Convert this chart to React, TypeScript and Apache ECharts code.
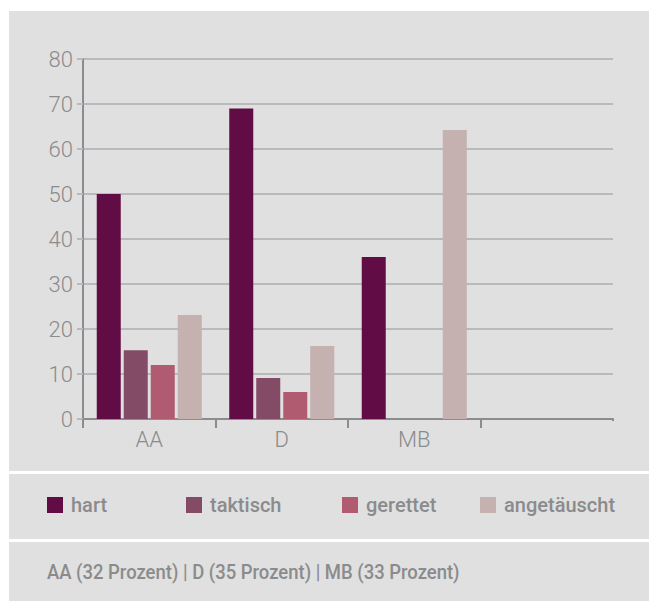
import React, { useEffect, useRef } from "react";
import * as echarts from "echarts";

const categories = ["AA", "D", "MB", ""];
const seriesNames = ["hart", "taktisch", "gerettet", "angetäuscht"];
const hart = [50, 69, 36, null];
const taktisch = [15.3, 9.1, null, null];
const gerettet = [12, 6, null, null];
const angetaeuscht = [23.1, 16.2, 64.2, null];
const colors = ["#620c45", "#834b66", "#b05b6f", "#c5b1b0"];
const footerText = "AA (32 Prozent) | D (35 Prozent) | MB (33 Prozent)";
const legendLefts = [47, 186, 342, 480];

const PANEL = "#dfe0df";
const LABEL = "#8b8b8d";

export default function App() {
  const ref = useRef<HTMLDivElement>(null);
  useEffect(() => {
    if (!ref.current) return;
    const chart = echarts.init(ref.current, undefined, { renderer: "svg" });
    const values = [hart, taktisch, gerettet, angetaeuscht];
    chart.setOption({
      animation: false,
      backgroundColor: "#ffffff",
      graphic: [
        { type: "rect", z: -10, shape: { x: 9, y: 11, width: 640, height: 460 }, style: { fill: PANEL } },
        { type: "rect", z: -10, shape: { x: 9, y: 474, width: 640, height: 65 }, style: { fill: PANEL } },
        { type: "rect", z: -10, shape: { x: 9, y: 542, width: 640, height: 59 }, style: { fill: PANEL } },
        { type: "rect", z: 100, shape: { x: 610, y: 421, width: 6, height: 10 }, style: { fill: PANEL } },
        {
          type: "text",
          z: 10,
          x: 47,
          y: 572,
          scaleX: 0.88,
          style: {
            text: footerText,
            fill: LABEL,
            font: "500 21px Roboto",
            verticalAlign: "middle",
          },
        },
      ],
      grid: { left: 83, right: 36, top: 59, bottom: 182, containLabel: false },
      legend: seriesNames.map((n, i) => ({
        data: [n],
        left: legendLefts[i],
        top: 493,
        padding: 0,
        itemWidth: 16,
        itemHeight: 16,
        icon: "rect",
        selectedMode: false,
        textStyle: {
          color: LABEL,
          fontFamily: "Roboto",
          fontWeight: 500,
          fontSize: 20,
          lineHeight: 24,
          padding: [0, 0, 0, 3],
        },
      })),
      xAxis: {
        type: "category",
        data: categories,
        axisLine: { lineStyle: { color: "#8b8c8f", width: 2 } },
        axisTick: { show: true, length: 9, lineStyle: { color: "#8b8c8f", width: 2 } },
        axisLabel: { color: LABEL, fontFamily: "Roboto", fontWeight: 300, fontSize: 22, margin: 9 },
      },
      yAxis: {
        type: "value",
        min: 0,
        max: 80,
        interval: 10,
        axisLine: { show: true, lineStyle: { color: "#8b8c8f", width: 2 } },
        axisTick: { show: true, length: 6, lineStyle: { color: "#b9babd", width: 2 } },
        splitLine: { lineStyle: { color: "#b9babd", width: 2 } },
        axisLabel: { color: LABEL, fontFamily: "Roboto", fontWeight: 300, fontSize: 22, margin: 10 },
      },
      series: seriesNames.map((n, i) => ({
        name: n,
        type: "bar",
        data: values[i],
        barWidth: 24,
        barGap: "12.5%",
        itemStyle: { color: colors[i] },
      })),
    });
    return () => chart.dispose();
  }, []);
  return (
    <div
      ref={ref}
      style={{ position: "fixed", left: 0, top: 0, width: 649, height: 601 }}
    />
  );
}
